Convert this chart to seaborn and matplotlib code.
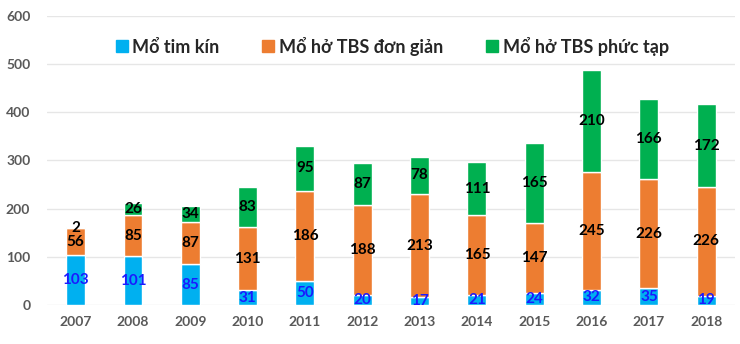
import matplotlib
matplotlib.use("Agg")
import matplotlib.pyplot as plt
import seaborn as sns
import pandas as pd
import numpy as np

years = ["2007", "2008", "2009", "2010", "2011", "2012", "2013", "2014", "2015", "2016", "2017", "2018"]
closed = [103, 101, 85, 31, 50, 20, 17, 21, 24, 32, 35, 19]
open_simple = [56, 85, 87, 131, 186, 188, 213, 165, 147, 245, 226, 226]
open_complex = [2, 26, 34, 83, 95, 87, 78, 111, 165, 210, 166, 172]
series_names = ["Mổ tim kín", "Mổ hở TBS đơn giản", "Mổ hở TBS phức tạp"]
colors = ["#00B0F0", "#ED7D31", "#00B050"]
label_colors = ["#1a1aff", "black", "black"]

sns.set_theme(style="white")
plt.rcParams["font.family"] = ["Lato", "DejaVu Sans"]

df = pd.DataFrame({"year": years, "closed": closed,
                   "simple": open_simple, "complex": open_complex})

fig = plt.figure(figsize=(7.4, 3.44), dpi=100)
ax = fig.add_axes([0.0635, 0.1134, 0.9295, 0.8401])

cols = ["closed", "simple", "complex"]
bottom = np.zeros(len(years))
for col, name, c, lc in zip(cols, series_names, colors, label_colors):
    vals = df[col].to_numpy()
    sns.barplot(x=df["year"], y=vals, bottom=bottom, color=c, width=0.33,
                ax=ax, label=name, saturation=1)
    for i, v in enumerate(vals):
        ax.text(i, bottom[i] + v / 2, str(v), ha="center", va="center",
                fontsize=11, fontweight="bold", color=lc)
    bottom = bottom + vals

ax.set_ylim(0, 600)
ax.set_xlim(-0.5, 11.5)
ax.set_yticks(range(0, 601, 100))
ax.yaxis.grid(True, color="#e6e6e6", linewidth=1)
ax.set_axisbelow(True)
for s in ax.spines.values():
    s.set_visible(False)
ax.set_xlabel("")
ax.set_ylabel("")
ax.tick_params(axis="both", length=0, labelsize=10, labelcolor="#595959")
ax.tick_params(axis="y", pad=12)
ax.tick_params(axis="x", pad=8)
for t in ax.get_xticklabels() + ax.get_yticklabels():
    t.set_fontweight("bold")

handles, labels = ax.get_legend_handles_labels()
from matplotlib.lines import Line2D
h = [Line2D([], [], marker="s", linestyle="", markersize=9, color=c) for c in colors]
ax.legend(h, series_names, loc="upper center", bbox_to_anchor=(0.5, 0.985), ncol=3,
          frameon=False, prop={"weight": "bold", "size": 13},
          handletextpad=0.1, columnspacing=2.2, handlelength=1.0)

fig.savefig("out.png", dpi=100)
